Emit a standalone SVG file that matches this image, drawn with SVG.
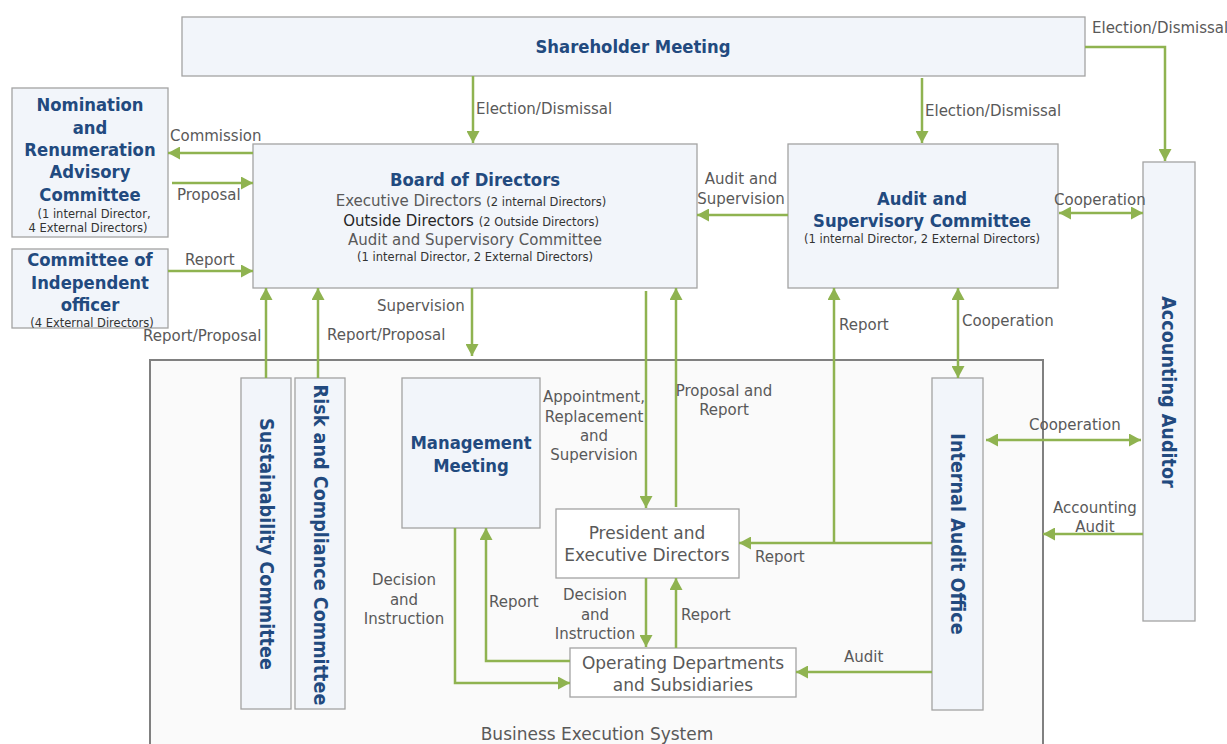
<svg xmlns="http://www.w3.org/2000/svg" width="1227" height="744" viewBox="0 0 1227 744">
  <style>
    text { font-family: "DejaVu Sans", Verdana, sans-serif; }
    .box { fill: #f2f5fa; stroke: #a3a3a3; stroke-width: 1.3; }
    .wbox { fill: #ffffff; stroke: #a3a3a3; stroke-width: 1.3; }
    .title { font-family: "DejaVu Sans Condensed", "DejaVu Sans", sans-serif; font-stretch: condensed; font-weight: 700; font-size: 18.3px; fill: #224a7f; text-anchor: middle; }
    .vt { font-size: 19.6px; }
    .sub { font-size: 11.5px; fill: #333333; text-anchor: middle; }
    .body { font-size: 15px; fill: #595959; }
    .big { font-size: 17px; fill: #595959; text-anchor: middle; }
    .lbl { font-size: 15px; fill: #595959; }
    .c { text-anchor: middle; }
    .conn path { fill: none; stroke: #8fb350; stroke-width: 2.5; }
  </style>
  <defs>
    <marker id="ah" markerUnits="userSpaceOnUse" markerWidth="13" markerHeight="13" refX="12" refY="6.5" orient="auto-start-reverse">
      <path d="M0,0 L12,6.5 L0,13 z" fill="#8fb350"/>
    </marker>
  </defs>

  <rect width="1227" height="744" fill="#ffffff"/>

  <!-- Business execution area -->
  <g id="business-execution-system">
    <rect x="150" y="360" width="893" height="400" fill="#fafafa" stroke="#808080" stroke-width="2"/>
    <text class="lbl" x="597" y="740" text-anchor="middle" style="font-size:17px">Business Execution System</text>
  </g>

  <g id="shareholder-meeting">
    <rect class="box" x="182" y="17" width="903" height="59"/>
    <text class="title" x="633" y="53">Shareholder Meeting</text>
  </g>

  <g id="nomination-committee">
    <rect class="box" x="12" y="88" width="156" height="149"/>
    <text class="title" x="90" y="111">Nomination</text>
    <text class="title" x="90" y="134">and</text>
    <text class="title" x="90" y="156">Renumeration</text>
    <text class="title" x="90" y="178">Advisory</text>
    <text class="title" x="90" y="201">Committee</text>
    <text class="sub" x="94" y="218">(1 internal Director,</text>
    <text class="sub" x="88" y="232">4 External Directors)</text>
  </g>

  <g id="independent-officer-committee">
    <rect class="box" x="12" y="249" width="156" height="79"/>
    <text class="title" x="90" y="266">Committee of</text>
    <text class="title" x="90" y="289">Independent</text>
    <text class="title" x="90" y="311">officer</text>
    <text class="sub" x="92" y="327">(4 External Directors)</text>
  </g>

  <g id="board-of-directors">
    <rect class="box" x="253" y="144" width="444" height="144"/>
    <text class="title" x="475" y="186">Board of Directors</text>
    <text x="471" y="206" text-anchor="middle"><tspan class="body">Executive Directors </tspan><tspan style="font-size:11.5px;fill:#333333">(2 internal Directors)</tspan></text>
    <text x="471" y="226" text-anchor="middle"><tspan class="body" style="fill:#262626">Outside Directors </tspan><tspan style="font-size:11.5px;fill:#333333">(2 Outside Directors)</tspan></text>
    <text class="body c" x="475" y="245">Audit and Supervisory Committee</text>
    <text class="sub" x="475" y="261">(1 internal Director, 2 External Directors)</text>
  </g>

  <g id="audit-supervisory-committee">
    <rect class="box" x="788" y="144" width="270" height="144"/>
    <text class="title" x="922" y="205">Audit and</text>
    <text class="title" x="922" y="227">Supervisory Committee</text>
    <text class="sub" x="922" y="243">(1 internal Director, 2 External Directors)</text>
  </g>

  <g id="accounting-auditor">
    <rect class="box" x="1143" y="162" width="52" height="459"/>
    <text class="title vt" transform="translate(1168,392) rotate(90)" dominant-baseline="central">Accounting Auditor</text>
  </g>

  <g id="sustainability-committee">
    <rect class="box" x="241" y="378" width="50" height="331"/>
    <text class="title vt" transform="translate(266,544) rotate(90)" dominant-baseline="central">Sustainability Committee</text>
  </g>

  <g id="risk-compliance-committee">
    <rect class="box" x="295" y="378" width="50" height="331"/>
    <text class="title vt" transform="translate(320,545) rotate(90)" dominant-baseline="central">Risk and Compliance Committee</text>
  </g>

  <g id="management-meeting">
    <rect class="box" x="402" y="378" width="138" height="150"/>
    <text class="title" x="471" y="449">Management</text>
    <text class="title" x="471" y="472">Meeting</text>
  </g>

  <g id="president">
    <rect class="wbox" x="556" y="509" width="183" height="69"/>
    <text class="big" x="647" y="539">President and</text>
    <text class="big" x="647" y="561">Executive Directors</text>
  </g>

  <g id="operating-departments">
    <rect class="wbox" x="570" y="648" width="226" height="49"/>
    <text class="big" x="683" y="669">Operating Departments</text>
    <text class="big" x="683" y="691">and Subsidiaries</text>
  </g>

  <g id="internal-audit-office">
    <rect class="box" x="932" y="378" width="51" height="332"/>
    <text class="title vt" transform="translate(957,534) rotate(90)" dominant-baseline="central">Internal Audit Office</text>
  </g>

  <!-- Connectors -->
  <g class="conn" id="connectors">
    <path d="M473,76 V143" marker-end="url(#ah)"/>
    <path d="M922,78 V143" marker-end="url(#ah)"/>
    <path d="M1085,47 H1165 V161" marker-end="url(#ah)"/>
    <path d="M253,153 H168" marker-end="url(#ah)"/>
    <path d="M172,183 H253" marker-end="url(#ah)"/>
    <path d="M168,271 H253" marker-end="url(#ah)"/>
    <path d="M266,378 V288" marker-end="url(#ah)"/>
    <path d="M318,378 V288" marker-end="url(#ah)"/>
    <path d="M472,288 V356" marker-end="url(#ah)"/>
    <path d="M646,291 V508" marker-end="url(#ah)"/>
    <path d="M676,507 V288" marker-end="url(#ah)"/>
    <path d="M788,215 H697" marker-end="url(#ah)"/>
    <path d="M1059,213 H1143" marker-start="url(#ah)" marker-end="url(#ah)"/>
    <path d="M932,543 H739" marker-end="url(#ah)"/>
    <path d="M834,543 V288" marker-end="url(#ah)"/>
    <path d="M958,288 V378" marker-start="url(#ah)" marker-end="url(#ah)"/>
    <path d="M986,440 H1141" marker-start="url(#ah)" marker-end="url(#ah)"/>
    <path d="M1143,534 H1043" marker-end="url(#ah)"/>
    <path d="M455,528 V683 H570" marker-end="url(#ah)"/>
    <path d="M570,661 H486 V528" marker-end="url(#ah)"/>
    <path d="M646,578 V647" marker-end="url(#ah)"/>
    <path d="M676,648 V578" marker-end="url(#ah)"/>
    <path d="M932,672 H796" marker-end="url(#ah)"/>
  </g>

  <!-- Connector labels -->
  <g id="labels" class="lbl">
    <text x="1092" y="33">Election/Dismissal</text>
    <text x="476" y="114">Election/Dismissal</text>
    <text x="925" y="116">Election/Dismissal</text>
    <text x="170" y="141">Commission</text>
    <text x="177" y="200">Proposal</text>
    <text x="185" y="265">Report</text>
    <text class="c" x="741" y="184">Audit and</text>
    <text class="c" x="741" y="204">Supervision</text>
    <text x="1054" y="205">Cooperation</text>
    <text x="143" y="341">Report/Proposal</text>
    <text x="327" y="340">Report/Proposal</text>
    <text x="377" y="311">Supervision</text>
    <text class="c" x="594" y="402">Appointment,</text>
    <text class="c" x="594" y="422">Replacement</text>
    <text class="c" x="594" y="441">and</text>
    <text class="c" x="594" y="460">Supervision</text>
    <text class="c" x="724" y="396">Proposal and</text>
    <text class="c" x="724" y="415">Report</text>
    <text x="839" y="330">Report</text>
    <text x="962" y="326">Cooperation</text>
    <text x="1029" y="430">Cooperation</text>
    <text class="c" x="1095" y="513">Accounting</text>
    <text class="c" x="1095" y="532">Audit</text>
    <text x="755" y="562">Report</text>
    <text class="c" x="404" y="585">Decision</text>
    <text class="c" x="404" y="605">and</text>
    <text class="c" x="404" y="624">Instruction</text>
    <text x="489" y="607">Report</text>
    <text class="c" x="595" y="600">Decision</text>
    <text class="c" x="595" y="620">and</text>
    <text class="c" x="595" y="639">Instruction</text>
    <text x="681" y="620">Report</text>
    <text x="844" y="662">Audit</text>
  </g>
</svg>
